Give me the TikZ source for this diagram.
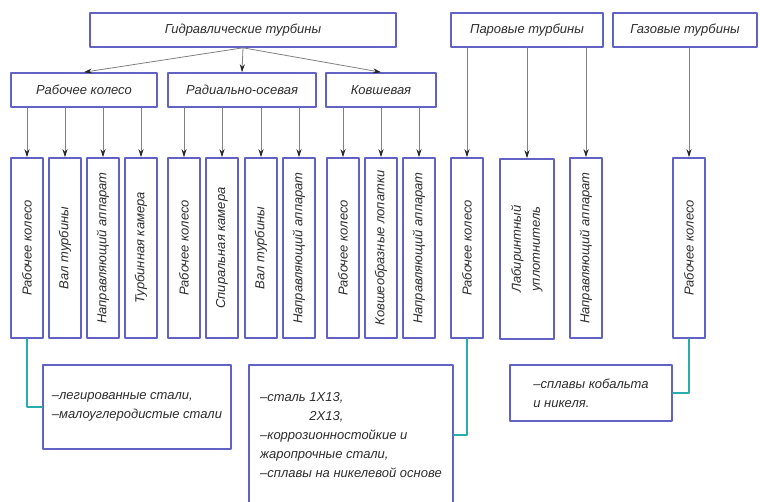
\documentclass[tikz,border=0pt]{standalone}
\usepackage{fontspec}
\setmainfont{Liberation Sans}
\usetikzlibrary{arrows.meta}
\definecolor{boxc}{RGB}{98,98,196}
\definecolor{tealc}{RGB}{40,172,172}
\definecolor{txtc}{RGB}{45,45,45}
\begin{document}
\begin{tikzpicture}[x=1pt,y=-1pt,>={Stealth[length=8pt,width=5pt,color=black!85]},line join=round,line cap=round,
	font=\itshape\fontsize{13}{19}\selectfont,
	box/.style={draw=boxc,line width=1.6pt,inner sep=0pt,text=txtc},
	vbox/.style={box,rotate=90,minimum width=180,minimum height=32,align=center},
	arr/.style={->,draw=black!50,line width=0.8pt},
	conn/.style={draw=tealc,line width=1.4pt}]
	\useasboundingbox (0,0) rectangle (760,501);
	% top row
	\node[box,minimum width=306,minimum height=34] (gt) at (243,30) {Гидравлические турбины};
	\node[box,minimum width=152,minimum height=34] (pt) at (527,30) {Паровые турбины};
	\node[box,minimum width=144,minimum height=34] (gz) at (685,30) {Газовые турбины};
	% second row
	\node[box,minimum width=146,minimum height=34] (rk) at (84,90) {Рабочее колесо};
	\node[box,minimum width=148,minimum height=34] (ro) at (242,90) {Радиально-осевая};
	\node[box,minimum width=110,minimum height=34] (kv) at (381,90) {Ковшевая};
	\foreach \b in {rk,ro,kv}
	\draw[arr] (gt.south)--(\b.north);
	% vertical boxes
	\foreach \n/\x/\t in {1/27/Рабочее колесо,2/65/Вал турбины,3/103/Направляющий аппарат,
		4/141/Турбинная камера,5/184/Рабочее колесо,6/222/Спиральная камера,
		7/261/Вал турбины,8/299/Направляющий аппарат,9/343/Рабочее колесо,
		10/381/Ковшеобразные лопатки,11/419/Направляющий аппарат,12/467/Рабочее колесо,
		14/586/Направляющий аппарат,15/689/Рабочее колесо}
	\node[vbox] (v\n) at (\x,248) {\t};
	\node[vbox,minimum height=54] (v13) at (527,249) {Лабиринтный\\уплотнитель};
	\foreach \n in {1,...,4}
	\draw[arr] (rk.south -| v\n)--(v\n.east);
	\foreach \n in {5,...,8}
	\draw[arr] (ro.south -| v\n)--(v\n.east);
	\foreach \n in {9,10,11}
	\draw[arr] (kv.south -| v\n)--(v\n.east);
	\foreach \n in {12,13,14}
	\draw[arr] (pt.south -| v\n)--(v\n.east);
	\draw[arr] (gz.south -| v15)--(v15.east);
	% materials
	\node[box,minimum width=188,minimum height=84,align=left] (ma) at (137,407)
	{–легированные стали,\\–малоуглеродистые стали};
	\node[box,minimum width=204,minimum height=140,align=left] (mb) at (351,435)
	{–сталь 1Х13,\\\phantom{–сталь }2Х13,\\–коррозионностойкие и\\жаропрочные стали,\\–сплавы на никелевой основе};
	\node[box,minimum width=162,minimum height=56,align=left] (mc) at (591,393)
	{–сплавы кобальта\\и никеля.};
	\draw[conn] (v1.west) |- (ma.west);
	\draw[conn] (v12.west) |- (mb.east);
	\draw[conn] (v15.west) |- (mc.east);
\end{tikzpicture}
\end{document}
